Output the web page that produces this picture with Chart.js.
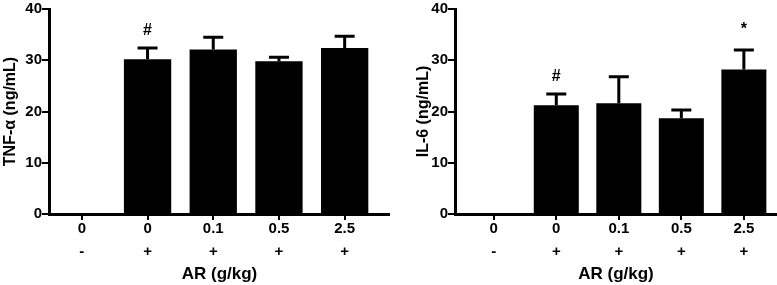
<!DOCTYPE html>
<html lang="en">
<head>
  <meta charset="UTF-8" />
  <title>TNF-a and IL-6</title>
  <script src="https://cdn.jsdelivr.net/npm/chart.js"></script>
  <style>
    body {
      margin: 0;
      padding: 0;
      background: #fff;
      width: 777px;
      height: 285px;
      overflow: hidden;
      position: relative;
    }

    .panel {
      position: absolute;
      top: 0;
      height: 285px;
    }

    #leftPanel { left: 0; width: 390px; }
    #rightPanel { left: 390px; width: 387px; }
  </style>
</head>
<body>
  <div class="panel" id="leftPanel"><canvas id="tnfChart"></canvas></div>
  <div class="panel" id="rightPanel"><canvas id="il6Chart"></canvas></div>

  <script>
  // data
  const doseLabels = ['0', '0', '0.1', '0.5', '2.5'];
  const lpsLabels = ['-', '+', '+', '+', '+'];

  const tnfMeans = [0, 30.2, 32.1, 29.8, 32.4];
  const tnfErrors = [0, 2.2, 2.4, 0.8, 2.3];
  const tnfMarks = ['', '#', '', '', ''];

  const il6Means = [0, 21.2, 21.6, 18.7, 28.2];
  const il6Errors = [0, 2.2, 5.2, 1.6, 3.8];
  const il6Marks = ['', '#', '', '', '*'];

  const yTicks = [0, 10, 20, 30, 40];

  const FONT = 'Liberation Sans, Arial, sans-serif';

  // upper error bars + significance marks
  const errorBarPlugin = {
    id: 'errorBars',
    afterDatasetsDraw(chart, args, opts) {
      const ctx = chart.ctx;
      const xs = chart.scales.x;
      const ys = chart.scales.y;
      ctx.save();
      ctx.strokeStyle = '#000';
      ctx.lineWidth = 3;
      opts.means.forEach((m, i) => {
        const x = xs.getPixelForValue(i);
        const yBar = ys.getPixelForValue(m);
        const yTop = ys.getPixelForValue(m + opts.errors[i]);
        if (opts.errors[i] > 0) {
          ctx.beginPath();
          ctx.moveTo(x, yBar);
          ctx.lineTo(x, yTop);
          ctx.moveTo(x - 10, yTop);
          ctx.lineTo(x + 10, yTop);
          ctx.stroke();
        }
        if (opts.marks[i]) {
          ctx.fillStyle = '#000';
          ctx.font = 'bold 16px ' + FONT;
          ctx.textAlign = 'center';
          ctx.textBaseline = 'middle';
          const dy = opts.marks[i] === '*' ? 20 : 17;
          ctx.fillText(opts.marks[i], x, yTop - dy);
        }
      });
      ctx.restore();
    }
  };

  function makeChart(id, means, errors, marks, yTitle, cfg) {
    return new Chart(document.getElementById(id), {
      type: 'bar',
      data: {
        datasets: [{
          data: means.map((v, i) => ({ x: i, y: v })),
          backgroundColor: '#000',
          borderWidth: 0,
          barPercentage: 0.72,
          categoryPercentage: 1
        }]
      },
      options: {
        responsive: true,
        maintainAspectRatio: false,
        animation: false,
        layout: { padding: { top: 7, left: 0, right: 0, bottom: 0 } },
        plugins: {
          legend: { display: false },
          tooltip: { enabled: false },
          errorBars: { means: means, errors: errors, marks: marks }
        },
        scales: {
          x: {
            type: 'linear',
            offset: false,
            min: cfg.xMin,
            max: cfg.xMax,
            afterBuildTicks: s => { s.ticks = doseLabels.map((_, i) => ({ value: i })); },
            afterFit: s => { s.height = 71; },
            border: { display: true, color: '#000', width: 3 },
            grid: { offset: false, drawOnChartArea: false, drawTicks: true, tickLength: 6, color: '#000', lineWidth: 2 },
            ticks: {
              autoSkip: false,
              maxRotation: 0,
              padding: -2,
              color: '#000',
              font: { family: FONT, size: 15, weight: 'bold', lineHeight: 1.5 },
              callback: (v) => [doseLabels[v], lpsLabels[v]]
            },
            title: {
              display: true,
              text: 'AR (g/kg)',
              color: '#000',
              font: { family: FONT, size: 17, weight: 'bold' },
              padding: { top: 0, bottom: 0 }
            }
          },
          y: {
            min: 0,
            max: 40,
            afterBuildTicks: s => { s.ticks = yTicks.map(v => ({ value: v })); },
            afterFit: s => { s.width = cfg.yWidth; },
            border: { display: true, color: '#000', width: 3 },
            grid: { drawOnChartArea: false, drawTicks: true, tickLength: 7, color: '#000', lineWidth: 2 },
            ticks: {
              padding: 0,
              color: '#000',
              font: { family: FONT, size: 15, weight: 'bold' }
            },
            title: {
              display: true,
              text: yTitle,
              color: '#000',
              font: { family: FONT, size: 16, weight: 'bold' },
              padding: { top: cfg.titlePad, bottom: 0 }
            }
          }
        }
      },
      plugins: [errorBarPlugin]
    });
  }

  makeChart('tnfChart', tnfMeans, tnfErrors, tnfMarks, 'TNF-\u03b1 (ng/mL)',
    { xMin: -0.5, xMax: 4.69, yWidth: 49, titlePad: 1 });
  makeChart('il6Chart', il6Means, il6Errors, il6Marks, 'IL-6 (ng/mL)',
    { xMin: -0.62, xMax: 4.53, yWidth: 65, titlePad: 24 });
  </script>
</body>
</html>
